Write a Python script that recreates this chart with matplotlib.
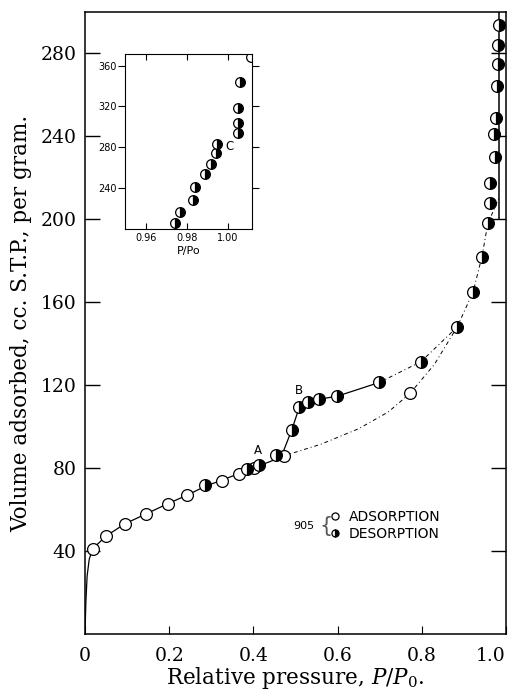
import matplotlib
matplotlib.use("Agg")
import matplotlib.pyplot as plt
from matplotlib.lines import Line2D

# main plot, adsorption (open circles)
ads_x = [0.018, 0.051, 0.096, 0.146, 0.196, 0.243, 0.325, 0.365, 0.401, 0.472, 0.772]
ads_y = [41.1, 47.4, 53.3, 58.0, 62.8, 67.0, 73.9, 77.1, 80.0, 85.9, 116.0]

# main plot, desorption (half filled circles)
des_x = [0.285, 0.386, 0.413, 0.454, 0.491, 0.509, 0.529, 0.557, 0.598, 0.699, 0.798,
         0.884, 0.922, 0.943, 0.957, 0.963, 0.963, 0.974, 0.972, 0.977, 0.978, 0.981, 0.981, 0.983]
des_y = [71.8, 79.4, 81.6, 86.1, 98.3, 109.3, 111.8, 113.3, 114.6, 121.3, 131.3,
         148.0, 165.0, 182.0, 198.0, 207.6, 217.6, 230.0, 241.0, 248.6, 264.0, 275.0, 284.0, 293.5]

# drawn curves
low_x = [0.0, 0.002, 0.005, 0.010, 0.018, 0.051, 0.096, 0.146, 0.196, 0.243, 0.285,
         0.325, 0.365, 0.401, 0.440, 0.472]
low_y = [0.0, 15.0, 28.0, 36.0, 41.1, 47.4, 53.3, 58.0, 62.8, 67.0, 71.2,
         74.2, 77.3, 80.2, 83.2, 85.9]
low_dash_x = [0.472, 0.560, 0.650, 0.720, 0.772, 0.830, 0.884]
low_dash_y = [85.9, 91.5, 99.0, 107.0, 116.0, 130.0, 148.0]
up_x = [0.454, 0.472, 0.491, 0.509, 0.529, 0.557, 0.598, 0.699]
up_y = [86.1, 88.5, 98.3, 109.3, 111.8, 113.3, 114.6, 121.3]
up_dash_x = [0.699, 0.798, 0.884, 0.922, 0.943, 0.957, 0.983]
up_dash_y = [121.3, 131.3, 148.0, 165.0, 182.0, 198.0, 210.0]
vert_x = [0.983, 0.983]
vert_y = [200.0, 300.0]

# inset, desorption near saturation
ins_x = [0.9741, 0.9766, 0.9831, 0.9839, 0.9888, 0.9917, 0.9940, 0.9948,
         1.0050, 1.0050, 1.0047, 1.0059]
ins_y = [206.0, 216.9, 228.3, 241.3, 253.4, 263.4, 274.4, 282.9,
         294.3, 303.7, 318.3, 343.4]
ins_open_x = [1.0111]
ins_open_y = [368.8]

x_ticks = [0, 0.2, 0.4, 0.6, 0.8, 1.0]
x_labels = ["0", "0.2", "0.4", "0.6", "0.8", "1.0"]
y_ticks = [40, 80, 120, 160, 200, 240, 280]
ins_xticks = [0.96, 0.98, 1.00]
ins_xlabels = ["0.96", "0.98", "1.00"]
ins_yticks = [240, 280, 320, 360]

plt.rcParams["font.family"] = ["DejaVu Serif"]
plt.rcParams["mathtext.fontset"] = "dejavuserif"

fig = plt.figure(figsize=(5.09, 6.96), dpi=100)
ax = fig.add_axes([0.167, 0.089, 0.827, 0.894])

open_style = dict(marker="o", ms=8.5, mfc="white", mec="black", mew=0.9, ls="none")
half_style = dict(marker="o", ms=8.5, fillstyle="right", mfc="black", mfcalt="white",
                  mec="black", mew=0.9, ls="none")

ax.plot(low_x, low_y, color="black", lw=0.9)
ax.plot(low_dash_x, low_dash_y, color="black", lw=0.7, ls=(0, (4, 3, 1, 3)))
ax.plot(up_x, up_y, color="black", lw=0.9)
ax.plot(up_dash_x, up_dash_y, color="black", lw=0.7, ls=(0, (4, 3, 1, 3)))
ax.plot(vert_x, vert_y, color="black", lw=1.1)
ax.plot(ads_x, ads_y, zorder=3, **open_style)
ax.plot(des_x, des_y, zorder=4, **half_style)

ax.set_xlim(0, 1.0)
ax.set_ylim(0, 300)
ax.set_xticks(x_ticks)
ax.set_xticklabels(x_labels)
ax.get_xticklabels()[-1].set_horizontalalignment("right")
ax.set_yticks(y_ticks)
ax.tick_params(axis="y", direction="in", length=11, width=1, labelsize=13.5,
               right=True, pad=6)
ax.tick_params(axis="x", direction="in", length=6, width=0.8, labelsize=13.5, pad=9)
for s in ax.spines.values():
    s.set_linewidth(1.1)

ax.set_xlabel("Relative pressure, $P/P_0$.", fontsize=15.5, labelpad=0)
ax.set_ylabel("Volume adsorbed, cc. S.T.P., per gram.", fontsize=15.5, labelpad=6)

ax.text(0.41, 88.5, "A", family="DejaVu Sans", fontsize=8.5, ha="center", va="center")
ax.text(0.509, 117.5, "B", family="DejaVu Sans", fontsize=8.5, ha="center", va="center")

# legend
leg = [Line2D([], [], **open_style), Line2D([], [], **half_style)]
ax.legend(leg, ["ADSORPTION", "DESORPTION"], loc="upper left",
          bbox_to_anchor=(0.584, 0.200), frameon=False, borderpad=0, borderaxespad=0,
          handlelength=0.6, handletextpad=0.7, labelspacing=0.25, markerscale=0.6,
          prop={"family": "DejaVu Sans", "size": 10})
ax.text(0.52, 52.0, "905", family="DejaVu Sans", fontsize=8, ha="center", va="center")
ax.text(0.572, 52.0, "{", family="DejaVu Sans", fontsize=15, ha="center", va="center",
        color="0.35")

# inset
ins = fig.add_axes([0.2456, 0.671, 0.2495, 0.251])
ins.plot(ins_x, ins_y, **dict(half_style, ms=7))
ins.plot(ins_open_x, ins_open_y, **dict(open_style, ms=7))
ins.set_xlim(0.9498, 1.0117)
ins.set_ylim(200, 371)
ins.set_xticks(ins_xticks)
ins.set_xticklabels(ins_xlabels)
ins.set_yticks(ins_yticks)
ins.tick_params(axis="y", direction="out", length=5, labelsize=7, pad=1,
                labelfontfamily="DejaVu Sans")
ins.tick_params(axis="y", which="major", right=True)
ins.tick_params(axis="x", direction="in", length=4, top=True, labelsize=7, pad=3,
                labelfontfamily="DejaVu Sans")
for s in ins.spines.values():
    s.set_linewidth(0.8)
ins.set_xlabel("P/Po", family="DejaVu Sans", fontsize=8, labelpad=2)
ins.text(1.0005, 281, "C", family="DejaVu Sans", fontsize=8.5, ha="center", va="center")

plt.savefig("out.png", dpi=100)
plt.close()
